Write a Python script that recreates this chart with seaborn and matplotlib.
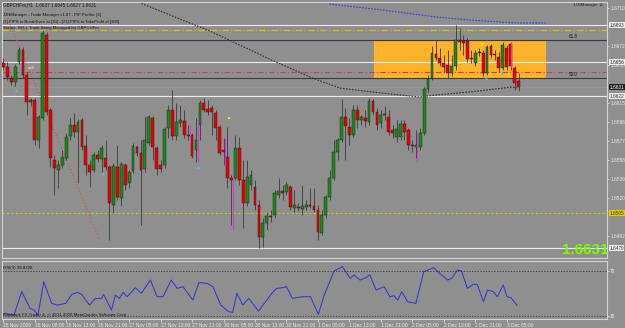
import numpy as np
import pandas as pd
import seaborn as sns
import matplotlib
matplotlib.use("Agg")
from matplotlib import pyplot as plt
from matplotlib.patches import Rectangle

# GBPCHFm H1 candles
opens = [1.6655, 1.6651, 1.6640, 1.6636, 1.6656, 1.6668, 1.6643, 1.6618, 1.6618, 1.6578,
         1.6600, 1.6683, 1.6608, 1.6558, 1.6548, 1.6553, 1.6560, 1.6582, 1.6593, 1.6586,
         1.6598, 1.6572, 1.6553, 1.6548, 1.6563, 1.6559, 1.6560, 1.6551, 1.6513, 1.6551,
         1.6520, 1.6553, 1.6535, 1.6547, 1.6571, 1.6565, 1.6549, 1.6575, 1.6600, 1.6570,
         1.6553, 1.6553, 1.6590, 1.6608, 1.6582, 1.6595, 1.6597, 1.6583, 1.6583, 1.6568,
         1.6593, 1.6615, 1.6609, 1.6610, 1.6605, 1.6591, 1.6568, 1.6561, 1.6540, 1.6540,
         1.6570, 1.6538, 1.6515, 1.6533, 1.6531, 1.6513, 1.6481, 1.6495, 1.6502, 1.6503,
         1.6523, 1.6527, 1.6526, 1.6531, 1.6510, 1.6511, 1.6509, 1.6511, 1.6513, 1.6512,
         1.6508, 1.6485, 1.6503, 1.6521, 1.6540, 1.6566, 1.6578, 1.6601, 1.6591, 1.6583,
         1.6608, 1.6598, 1.6600, 1.6596, 1.6617, 1.6606, 1.6595, 1.6604, 1.6601, 1.6588,
         1.6581, 1.6581, 1.6594, 1.6588, 1.6573, 1.6571, 1.6571, 1.6585, 1.6629, 1.6640,
         1.6664, 1.6660, 1.6655, 1.6653, 1.6645, 1.6652, 1.6678, 1.6677, 1.6677, 1.6660,
         1.6655, 1.6666, 1.6665, 1.6645, 1.6672, 1.6664, 1.6661, 1.6650, 1.6670, 1.6674,
         1.6650, 1.6637]
highs = [1.6660, 1.6656, 1.6643, 1.6654, 1.6671, 1.6671, 1.6646, 1.6620, 1.6620, 1.6603,
         1.6688, 1.6686, 1.6610, 1.6563, 1.6558, 1.6568, 1.6585, 1.6600, 1.6605, 1.6599,
         1.6600, 1.6583, 1.6558, 1.6566, 1.6568, 1.6573, 1.6578, 1.6553, 1.6555, 1.6573,
         1.6556, 1.6555, 1.6548, 1.6575, 1.6573, 1.6578, 1.6601, 1.6603, 1.6602, 1.6572,
         1.6558, 1.6591, 1.6613, 1.6628, 1.6615, 1.6613, 1.6608, 1.6593, 1.6585, 1.6600,
         1.6618, 1.6620, 1.6618, 1.6613, 1.6608, 1.6593, 1.6580, 1.6591, 1.6543, 1.6583,
         1.6581, 1.6558, 1.6558, 1.6548, 1.6538, 1.6518, 1.6500, 1.6506, 1.6508, 1.6528,
         1.6540, 1.6533, 1.6536, 1.6533, 1.6528, 1.6515, 1.6533, 1.6518, 1.6530, 1.6530,
         1.6513, 1.6508, 1.6523, 1.6548, 1.6578, 1.6580, 1.6619, 1.6610, 1.6600, 1.6613,
         1.6613, 1.6603, 1.6608, 1.6620, 1.6619, 1.6610, 1.6608, 1.6612, 1.6608, 1.6593,
         1.6598, 1.6598, 1.6598, 1.6590, 1.6578, 1.6588, 1.6590, 1.6631, 1.6643, 1.6672,
         1.6678, 1.6670, 1.6663, 1.6668, 1.6663, 1.6693, 1.6690, 1.6683, 1.6680, 1.6668,
         1.6668, 1.6670, 1.6668, 1.6673, 1.6674, 1.6668, 1.6666, 1.6676, 1.6673, 1.6676,
         1.6652, 1.6645]
lows = [1.6648, 1.6638, 1.6633, 1.6632, 1.6654, 1.6640, 1.6603, 1.6612, 1.6573, 1.6570,
        1.6598, 1.6603, 1.6551, 1.6523, 1.6530, 1.6550, 1.6558, 1.6578, 1.6581, 1.6535,
        1.6568, 1.6543, 1.6531, 1.6546, 1.6556, 1.6546, 1.6548, 1.6478, 1.6505, 1.6518,
        1.6512, 1.6528, 1.6530, 1.6545, 1.6562, 1.6493, 1.6546, 1.6573, 1.6558, 1.6543,
        1.6546, 1.6550, 1.6580, 1.6578, 1.6578, 1.6591, 1.6580, 1.6578, 1.6560, 1.6556,
        1.6578, 1.6606, 1.6603, 1.6583, 1.6578, 1.6563, 1.6553, 1.6530, 1.6493, 1.6538,
        1.6533, 1.6490, 1.6512, 1.6528, 1.6508, 1.6470, 1.6471, 1.6488, 1.6496, 1.6500,
        1.6520, 1.6518, 1.6523, 1.6508, 1.6506, 1.6507, 1.6503, 1.6508, 1.6510, 1.6506,
        1.6478, 1.6483, 1.6500, 1.6518, 1.6538, 1.6558, 1.6576, 1.6558, 1.6573, 1.6581,
        1.6590, 1.6593, 1.6591, 1.6593, 1.6603, 1.6588, 1.6590, 1.6598, 1.6583, 1.6580,
        1.6576, 1.6578, 1.6578, 1.6568, 1.6566, 1.6560, 1.6568, 1.6583, 1.6626, 1.6638,
        1.6658, 1.6652, 1.6646, 1.6640, 1.6642, 1.6648, 1.6668, 1.6663, 1.6656, 1.6655,
        1.6652, 1.6662, 1.6642, 1.6643, 1.6660, 1.6658, 1.6646, 1.6648, 1.6648, 1.6648,
        1.6628, 1.6627]
closes = [1.6651, 1.6641, 1.6636, 1.6651, 1.6668, 1.6643, 1.6616, 1.6616, 1.6578, 1.6601,
          1.6685, 1.6606, 1.6560, 1.6550, 1.6553, 1.6561, 1.6581, 1.6593, 1.6586, 1.6596,
          1.6571, 1.6553, 1.6546, 1.6563, 1.6559, 1.6570, 1.6551, 1.6515, 1.6552, 1.6521,
          1.6554, 1.6533, 1.6546, 1.6572, 1.6565, 1.6548, 1.6578, 1.6601, 1.6571, 1.6549,
          1.6549, 1.6589, 1.6608, 1.6582, 1.6596, 1.6598, 1.6583, 1.6582, 1.6562, 1.6578,
          1.6615, 1.6608, 1.6606, 1.6606, 1.6590, 1.6565, 1.6566, 1.6540, 1.6538, 1.6570,
          1.6538, 1.6515, 1.6541, 1.6543, 1.6513, 1.6481, 1.6495, 1.6502, 1.6501, 1.6525,
          1.6527, 1.6525, 1.6533, 1.6511, 1.6513, 1.6510, 1.6512, 1.6513, 1.6512, 1.6508,
          1.6486, 1.6503, 1.6521, 1.6540, 1.6566, 1.6578, 1.6601, 1.6592, 1.6583, 1.6608,
          1.6598, 1.6601, 1.6597, 1.6617, 1.6606, 1.6593, 1.6603, 1.6603, 1.6586, 1.6585,
          1.6589, 1.6594, 1.6586, 1.6573, 1.6572, 1.6573, 1.6585, 1.6629, 1.6639, 1.6665,
          1.6660, 1.6655, 1.6651, 1.6645, 1.6652, 1.6678, 1.6676, 1.6675, 1.6659, 1.6659,
          1.6665, 1.6665, 1.6645, 1.6671, 1.6663, 1.6663, 1.6650, 1.6673, 1.6651, 1.6652,
          1.6635, 1.6631]

time_labels = ["26 Nov 2009", "26 Nov 08:00", "26 Nov 13:00", "26 Nov 21:00", "27 Nov 05:00",
               "27 Nov 13:00", "27 Nov 21:00", "30 Nov 05:00", "30 Nov 13:00", "30 Nov 21:00",
               "1 Dec 05:00", "1 Dec 13:00", "1 Dec 21:00", "2 Dec 05:00", "2 Dec 13:00",
               "2 Dec 21:00", "3 Dec 05:00"]
price_ticks = [1.6710, 1.6672, 1.6653, 1.6615, 1.6596, 1.6577, 1.6558,
               1.6539, 1.6520, 1.6482]

# slow moving average (dark dotted) and blue dotted average, at bar positions
ma_bar = [33.0, 47.4, 52.0, 68.2, 78.6, 85.5, 93.8, 105.8, 110.0, 118.5, 129.4, 130.6]
ma_val = [1.6718, 1.6695, 1.6688, 1.6658, 1.6640, 1.6630, 1.6626, 1.6621, 1.6623, 1.6626, 1.6631, 1.6630]
blue_bar = [82.9, 96.4, 110.1, 118.5, 130.4, 138.0]
blue_val = [1.6714, 1.6708, 1.6701, 1.6698, 1.6695, 1.6695]
trend_bar = [0.4, 24.5]
trend_val = [1.6706, 1.6478]

# horizontal objects
level_prices = [1.6693, 1.6688, 1.6678, 1.6656, 1.6646, 1.6640, 1.6622, 1.6505, 1.6470]
box_prices = [1.6693, 1.6656, 1.6622, 1.6505, 1.6470]
current_price = 1.6631
zone_bars = [94.3, 138.0]
zone_prices = [1.6640, 1.6678]

# small markers
magenta_bar = [47.4, 49.4, 56.3, 58.3, 105.3, 129.1]
magenta_lo = [1.6575, 1.6556, 1.6553, 1.6488, 1.6556, 1.6651]
magenta_hi = [1.6593, 1.6601, 1.6580, 1.6545, 1.6585, 1.6676]
cyan_bar = [3.2, 25.3, 49.4, 122.8, 126.8]
cyan_val = [1.6628, 1.6545, 1.6551, 1.6640, 1.6645]
yellow_bar = [57.3, 121.8]
yellow_val = [1.6600, 1.6674]

# RSI(9)
rsi_bar = [0.2, 2.7, 4.7, 6.8, 7.8, 8.8, 10.3, 12.3, 13.8, 15.9, 17.4, 18.9, 19.9, 21.9, 23.4,
           25.0, 25.5, 27.5, 28.5, 29.5, 30.5, 31.5, 33.6, 35.1, 37.4, 39.1, 40.6, 42.7, 44.2,
           45.7, 48.2, 49.7, 51.8, 53.3, 55.3, 57.3, 58.3, 59.4, 60.9, 62.4, 64.9, 68.5, 69.5,
           71.0, 72.0, 73.5, 76.0, 78.1, 80.1, 81.6, 84.1, 86.2, 88.2, 89.2, 90.7, 92.2, 93.2,
           94.8, 96.8, 98.3, 99.3, 100.3, 101.3, 102.8, 104.9, 106.9, 109.4, 110.9, 113.0,
           114.0, 115.5, 116.5, 118.0, 119.5, 120.5, 122.1, 123.1, 124.6, 125.6, 127.1, 128.1,
           129.1, 130.7]
rsi_val = [32.1, 30.6, 51.4, 36.6, 35.1, 30.6, 60.2, 41.0, 39.5, 41.0, 49.0, 50.8, 49.0, 39.5,
           45.4, 45.4, 49.0, 35.1, 48.4, 45.4, 50.8, 46.9, 54.9, 49.9, 61.7, 46.9, 46.9, 61.7,
           54.3, 55.8, 44.0, 59.4, 58.8, 55.8, 39.5, 33.6, 33.0, 49.9, 39.5, 45.4, 34.2, 50.8,
           54.3, 54.9, 55.8, 45.4, 46.9, 46.9, 31.2, 48.4, 69.7, 73.6, 63.2, 66.2, 61.7, 63.8,
           66.2, 52.8, 55.8, 46.9, 47.8, 44.0, 51.4, 42.5, 41.0, 69.1, 72.7, 67.7, 61.7, 63.2,
           70.6, 69.7, 54.3, 57.9, 57.9, 42.5, 52.8, 51.4, 46.9, 57.3, 46.9, 46.0, 38.9]
rsi_levels = [70, 30]

BG = '#8f8f8f'
LIGHT = '#ececec'
sns.set_theme(style="dark")
plt.rcParams['font.family'] = ['Liberation Sans', 'DejaVu Sans']

candles = pd.DataFrame({'open': opens, 'high': highs, 'low': lows, 'close': closes})
candles['bar'] = np.arange(len(candles))
up = candles['close'] >= candles['open']

fig = plt.figure(figsize=(6.25, 3.28), dpi=100, facecolor=BG)
ax = fig.add_axes([0.0032, 0.2134, 0.9680, 0.7805])
rax = fig.add_axes([0.0032, 0.0274, 0.9680, 0.1768], sharex=ax)
for a in (ax, rax):
    a.set_facecolor(BG)
    a.grid(False)
    for s in a.spines.values():
        s.set_color('#d4d4d4')
        s.set_linewidth(0.8)

# objects behind the candles
ax.add_patch(Rectangle((zone_bars[0], zone_prices[0]), zone_bars[1] - zone_bars[0],
                       zone_prices[1] - zone_prices[0], facecolor='#ffb22a',
                       edgecolor='none', zorder=1))
level_colors = [LIGHT, '#d9c400', '#3a3a3a', LIGHT, '#d83848', '#3a3a3a', LIGHT, '#d9c400', LIGHT]
level_styles = ['-', (0, (6, 2, 1, 2)), '-', '-', (0, (5, 2, 1, 2)), '-', '-', (0, (2, 2)), '-']
for p, c, ls in zip(level_prices, level_colors, level_styles):
    ax.axhline(p, color=c, linestyle=ls, linewidth=0.8, zorder=2)
ax.axhline(current_price, color='#b0b0b0', linestyle=(0, (1, 2)), linewidth=0.5, zorder=2)

sns.lineplot(x=ma_bar, y=ma_val, ax=ax, color='#303030', linestyle=(0, (1.5, 1.2)),
             linewidth=0.8, sort=False, zorder=2)
sns.lineplot(x=blue_bar, y=blue_val, ax=ax, color='#2f3fe0', linestyle=(0, (1.5, 1.2)),
             linewidth=0.8, sort=False, zorder=2)
sns.lineplot(x=trend_bar, y=trend_val, ax=ax, color='#e8443c', linestyle=(0, (1, 2)),
             linewidth=0.8, sort=False, zorder=2)

# candles
ax.vlines(candles['bar'], candles['low'], candles['high'], color='#3a3a3a',
          linewidth=0.6, zorder=3)
body = (candles['close'] - candles['open']).abs().clip(lower=0.00006)
bottom = candles[['open', 'close']].min(axis=1)
ax.bar(candles['bar'][up], body[up], bottom=bottom[up], width=0.72,
       color='#1d8a1d', edgecolor='#1a1a1a', linewidth=0.3, zorder=4)
ax.bar(candles['bar'][~up], body[~up], bottom=bottom[~up], width=0.72,
       color='#ee0000', edgecolor='#1a1a1a', linewidth=0.3, zorder=4)

ax.vlines(magenta_bar, magenta_lo, magenta_hi, color='#d040d0', linewidth=0.8, zorder=5)
ax.scatter(cyan_bar, cyan_val, marker='^', s=5, color='#38c8e8', linewidths=0, zorder=5)
ax.scatter(yellow_bar, yellow_val, marker='s', s=3, color='#f0f000', linewidths=0, zorder=5)

ax.set_xlim(-0.33, 153.5)
ax.set_ylim(1.6460, 1.6716)
ax.yaxis.tick_right()
ax.set_yticks(price_ticks)
ax.set_yticklabels([f"{p:.4f}" for p in price_ticks])
ax.tick_params(axis='y', right=True, length=1.5, width=0.5, color=LIGHT, pad=0.8,
               labelsize=3.4, labelcolor=LIGHT)
ax.tick_params(axis='x', bottom=False, labelbottom=False)
ax.set_xlabel('')
ax.set_ylabel('')

# price level tags on the right scale
tr = ax.get_yaxis_transform()
box_faces = [LIGHT, LIGHT, LIGHT, '#e8c800', LIGHT]
for p, fc in zip(box_prices, box_faces):
    ax.text(1.004, p, f"{p:.4f}", transform=tr, fontsize=3.4, color='#303030',
            va='center', ha='left', clip_on=False,
            bbox=dict(boxstyle='square,pad=0.1', fc=fc, ec='none'))
ax.text(1.004, current_price, f"{current_price:.4f}", transform=tr, fontsize=3.4,
        color='white', va='center', ha='left', clip_on=False,
        bbox=dict(boxstyle='square,pad=0.1', fc='#202020', ec='none'))

# RSI panel
sns.lineplot(x=rsi_bar, y=rsi_val, ax=rax, color='#3030d8', linewidth=0.7, sort=False)
for lv in rsi_levels:
    rax.axhline(lv, color='#2a2a2a', linestyle=(0, (2, 2)), linewidth=0.5)
rax.set_ylim(27.1, 78.6)
rax.yaxis.tick_right()
rax.set_yticks(rsi_levels)
rax.set_yticklabels([str(v) for v in rsi_levels])
rax.tick_params(axis='y', right=True, length=1.5, width=0.5, color=LIGHT, pad=0.8,
                labelsize=3.4, labelcolor=LIGHT)
rax.set_xticks(np.arange(len(time_labels)) * 8)
rax.set_xticklabels(time_labels, ha='left')
rax.tick_params(axis='x', bottom=True, length=2, width=0.5, color=LIGHT, pad=1,
                labelsize=3.5, labelcolor=LIGHT)
rax.set_xlabel('')
rax.set_ylabel('')


def px_text(x, y, s, **kw):
    fig.text(x / 625, 1 - y / 328, s, va='center', **kw)


px_text(3, 5, "GBPCHFm,H1  1.6637 1.6645 1.6627 1.6631", fontsize=3.3, color='#151515')
px_text(3, 15, "JJNManager - Trade Manager v1.07 - PIP Profits: [4]", fontsize=3.1, color='#151515')
px_text(3, 21.5, "[1] PIPS to BreakEven at [30] - [21] PIPS to TakeProfit of [300]",
        fontsize=3.1, color='#151515')
px_text(3, 28.5, "Status: SELL Trade Being Managed for GBPCHFm", fontsize=3.1, color='#151515')
px_text(28, 68, "sell", fontsize=3.2, color='#f4f4f4')
px_text(573, 5, "JJNManager \u263a", fontsize=3.2, color='#202020')
px_text(578, 37, "61.8", fontsize=3.3, color='#151515', ha='right')
px_text(578, 75, "50.0", fontsize=3.3, color='#151515', ha='right')
px_text(562, 250, "1.6631", fontsize=11, fontweight='bold', color='#7cfc00')
px_text(3, 268, "RSI(9) 38.8228", fontsize=3.2, color='#151515')
px_text(3, 315, "Interbank FX Trader 4, \u00a9 2001-2009 MetaQuotes Software Corp.",
        fontsize=3.2, color='#151515')

plt.savefig("out.png", dpi=100, facecolor=BG)
